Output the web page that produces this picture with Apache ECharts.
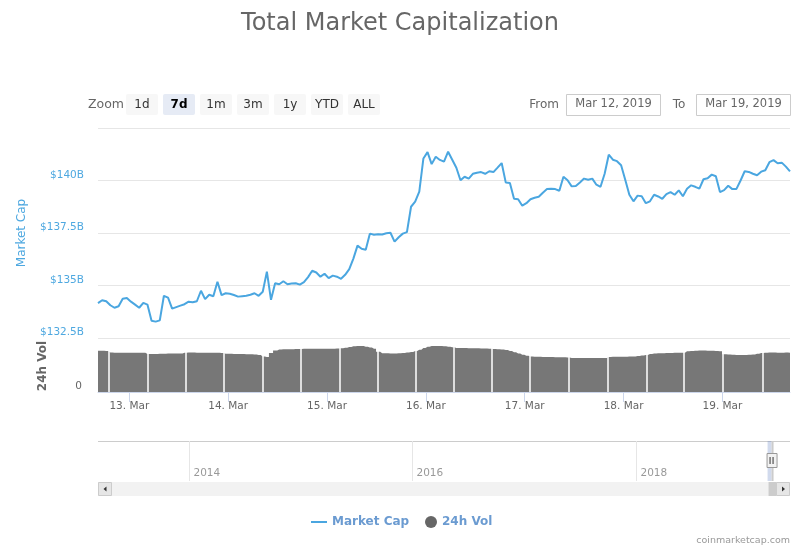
<!DOCTYPE html>
<html>
<head>
<meta charset="utf-8">
<script src="https://cdn.jsdelivr.net/npm/echarts@6/dist/echarts.min.js"></script>
<style>
html,body{margin:0;padding:0;background:#fff;}
#chart{width:800px;height:550px;}
</style>
</head>
<body>
<div id="chart"></div>
<script>
// ---------------- data ----------------
const startTime = Date.UTC(2019, 2, 12, 16, 24);   // first hourly sample
const stepHours = 1;

// Total market cap, billions USD, hourly samples
const marketCapB = [
  134.16, 134.30, 134.25, 134.06, 133.94, 134.01, 134.37, 134.40, 134.23, 134.09,
  133.94, 134.17, 134.09, 133.32, 133.28, 133.34, 134.51, 134.42, 133.90, 133.97,
  134.04, 134.11, 134.23, 134.20, 134.25, 134.75, 134.35, 134.56, 134.49, 135.18,
  134.54, 134.63, 134.61, 134.55, 134.47, 134.49, 134.51, 134.56, 134.63, 134.51,
  134.70, 135.66, 134.32, 135.11, 135.06, 135.20, 135.06, 135.09, 135.11, 135.04,
  135.16, 135.40, 135.70, 135.62, 135.42, 135.56, 135.35, 135.47, 135.42, 135.32,
  135.51, 135.78, 136.28, 136.90, 136.75, 136.70, 137.47, 137.42, 137.44, 137.43,
  137.49, 137.51, 137.09, 137.30, 137.47, 137.54, 138.75, 138.99, 139.47, 141.05,
  141.35, 140.78, 141.13, 140.98, 140.90, 141.37, 140.99, 140.61, 140.01, 140.18,
  140.09, 140.32, 140.37, 140.40, 140.32, 140.44, 140.40, 140.61, 140.83, 139.90,
  139.88, 139.13, 139.11, 138.80, 138.92, 139.11, 139.18, 139.23, 139.42, 139.59,
  139.61, 139.59, 139.51, 140.18, 140.01, 139.72, 139.74, 139.91, 140.09, 140.04,
  140.09, 139.80, 139.70, 140.32, 141.23, 140.99, 140.92, 140.73, 140.04, 139.32,
  139.01, 139.28, 139.25, 138.92, 139.01, 139.32, 139.24, 139.13, 139.35, 139.45,
  139.32, 139.53, 139.25, 139.61, 139.77, 139.70, 139.61, 140.06, 140.11, 140.28,
  140.20, 139.45, 139.54, 139.75, 139.59, 139.60, 140.00, 140.44, 140.41, 140.32,
  140.25, 140.42, 140.49, 140.87, 140.97, 140.82, 140.85, 140.66, 140.43
];

// 24h volume, billions USD, hourly samples
const volumeB = [
  31.8, 31.7, 31.6,
  30.3, 30.2, 30.2, 30.1, 30.1, 30.2, 30.2, 30.1, 30.2,
  29.3, 29.2, 29.3, 29.4, 29.5, 29.6, 29.6, 29.7, 29.7,
  30.2, 30.3, 30.3, 30.2, 30.2, 30.2, 30.1, 30.1, 30.1, 30.0,
  29.5, 29.4, 29.3, 29.3, 29.2, 29.1, 29.0, 28.8, 28.5,
  27.3, 27.0,
  30.0, 32.0, 32.6, 32.8, 32.9, 32.9, 33.0, 33.0,
  33.3, 33.3, 33.3, 33.3, 33.3, 33.3, 33.3, 33.3, 33.4,
  33.6, 34.0, 34.6, 35.2, 35.4, 35.3, 34.9, 34.2, 33.2, 31.0,
  29.8, 29.8, 29.7, 29.7, 29.8,
  30.0, 30.3, 30.8, 31.5,
  32.5, 33.8, 34.8, 35.3, 35.4, 35.4, 35.2, 34.8, 34.4,
  33.9, 33.8, 33.8, 33.7, 33.6, 33.6, 33.5, 33.5, 33.3,
  33.0, 32.9, 32.7, 32.3, 31.6, 30.6, 29.6, 28.6, 27.8, 27.3,
  27.2, 27.1, 27.0, 27.0, 26.9, 26.8, 26.8, 26.7, 26.6,
  26.2, 26.2, 26.1, 26.1, 26.1, 26.1, 26.1, 26.2, 26.2,
  27.0, 27.1, 27.1, 27.2, 27.2, 27.3, 27.4, 27.6, 28.0, 28.4,
  29.3, 29.6, 29.8, 29.9, 30.0, 30.0, 30.1, 30.1, 30.2,
  31.3, 31.6, 31.8, 31.9, 31.9, 31.8, 31.7, 31.5, 31.3,
  29.0, 28.8, 28.6, 28.5, 28.4, 28.4, 28.6, 28.9, 29.4,
  30.0, 30.2, 30.3, 30.3, 30.2, 30.2, 30.3, 30.2
];

// hours (from first sample) where the volume columns show white separators
const volumeGapHours = [2.5, 12.0, 21.3, 30.6, 40.0, 49.2, 58.6, 68.0, 77.2,
  86.4, 95.7, 104.9, 114.4, 123.7, 133.2, 142.3, 151.7, 161.3];

const capTicks = { min: 132.5, max: 142.5, step: 2.5 };
const volTicks = { min: 0, max: 40 };
const navigatorYears = [2014, 2016, 2018];
const navigatorRange = [Date.UTC(2013, 2, 9), Date.UTC(2019, 4, 19)];
const rangeButtons = ['1d', '7d', '1m', '3m', '1y', 'YTD', 'ALL'];
const selectedButton = '7d';
const fromLabel = 'Mar 12, 2019';
const toLabel = 'Mar 19, 2019';
const creditText = 'coinmarketcap.com';
const monthNames = ['Jan','Feb','Mar','Apr','May','Jun','Jul','Aug','Sep','Oct','Nov','Dec'];

// ---------------- chart ----------------
const HOUR = 3600 * 1000;
const endTime = startTime + (marketCapB.length - 1) * stepHours * HOUR;
const capData = marketCapB.map((v, i) => [startTime + i * stepHours * HOUR, v]);
const volData = volumeB.map((v, i) => [startTime + i * stepHours * HOUR, v]);
const yearData = navigatorYears.map(y => [Date.UTC(y, 0, 1), 0, y]);
const FONT = 'DejaVu Sans';

const chart = echarts.init(document.getElementById('chart'), null, { renderer: 'canvas' });

const option = {
  animation: false,
  useUTC: true,
  backgroundColor: '#ffffff',
  textStyle: { fontFamily: FONT },
  title: [
    {
      text: 'Total Market Capitalization',
      left: 'center', top: 7,
      textStyle: { fontSize: 24, color: '#666666', fontWeight: 'normal', fontFamily: FONT }
    }
  ],
  legend: [
    {
      data: [{ name: 'Market Cap', icon: 'rect' }],
      left: 306, top: 511, itemWidth: 16, itemHeight: 2, itemGap: 5,
      selectedMode: false,
      textStyle: { color: '#6b9bd1', fontWeight: 'bold', fontSize: 12, fontFamily: FONT }
    },
    {
      data: [{ name: '24h Vol', icon: 'circle' }],
      left: 420, top: 511, itemWidth: 12, itemHeight: 12,
      selectedMode: false,
      textStyle: { color: '#6b9bd1', fontWeight: 'bold', fontSize: 12, fontFamily: FONT }
    }
  ],
  grid: [
    { left: 98, width: 692, top: 128, height: 210, containLabel: false },
    { left: 98, width: 692, top: 340, height: 52, containLabel: false },
    { left: 98, width: 692, top: 441, height: 40, containLabel: false }
  ],
  xAxis: [
    {
      type: 'time', gridIndex: 0, min: startTime, max: endTime,
      axisLine: { show: false }, axisTick: { show: false }, axisLabel: { show: false },
      splitLine: { show: false }
    },
    {
      type: 'time', gridIndex: 1, min: startTime, max: endTime,
      minInterval: 24 * HOUR, maxInterval: 24 * HOUR,
      axisLine: { show: true, lineStyle: { color: '#ccd6eb', width: 1 } },
      axisTick: { show: true, length: 10, lineStyle: { color: '#ccd6eb' } },
      axisLabel: {
        color: '#666666', fontSize: 10.5, margin: 9, fontFamily: FONT,
        formatter: v => { const d = new Date(v); return d.getUTCDate() + '. ' + monthNames[d.getUTCMonth()]; }
      },
      splitLine: { show: false }
    },
    {
      type: 'time', gridIndex: 2, min: navigatorRange[0], max: navigatorRange[1],
      axisLine: { show: false }, axisTick: { show: false }, axisLabel: { show: false },
      splitLine: { show: false }
    }
  ],
  yAxis: [
    {
      type: 'value', gridIndex: 0, min: capTicks.min, max: capTicks.max, interval: capTicks.step,
      name: 'Market Cap', nameLocation: 'middle', nameGap: 70,
      nameTextStyle: { color: '#4ea8e0', fontSize: 12, fontFamily: FONT },
      axisLine: { show: false }, axisTick: { show: false },
      axisLabel: {
        color: '#4ea8e0', fontSize: 10.5, margin: 14, verticalAlign: 'bottom', fontFamily: FONT,
        formatter: v => (v >= capTicks.max ? '' : '$' + v + 'B')
      },
      splitLine: { show: true, lineStyle: { color: '#e6e6e6', width: 1 } }
    },
    {
      type: 'value', gridIndex: 1, min: volTicks.min, max: volTicks.max, interval: volTicks.max,
      name: '24h Vol', nameLocation: 'middle', nameGap: 49,
      nameTextStyle: { color: '#666666', fontSize: 12, fontWeight: 'bold', fontFamily: FONT },
      axisLine: { show: false }, axisTick: { show: false },
      axisLabel: {
        color: '#666666', fontSize: 10.5, margin: 16, verticalAlign: 'bottom', fontFamily: FONT,
        formatter: v => (v === 0 ? '0' : '')
      },
      splitLine: { show: false }
    },
    {
      type: 'value', gridIndex: 2, min: 0, max: 1,
      axisLine: { show: false }, axisTick: { show: false }, axisLabel: { show: false },
      splitLine: { show: false }
    }
  ],
  series: [
    {
      name: 'Market Cap', type: 'line', xAxisIndex: 0, yAxisIndex: 0,
      data: capData, showSymbol: false, symbol: 'none',
      lineStyle: { color: '#4aa6e0', width: 2 },
      itemStyle: { color: '#4aa6e0' }
    },
    {
      name: '24h Vol', type: 'line', xAxisIndex: 1, yAxisIndex: 1,
      data: volData, step: 'middle', showSymbol: false, symbol: 'none',
      lineStyle: { width: 0 },
      itemStyle: { color: '#666666' },
      areaStyle: { color: '#777777', opacity: 1 },
      markLine: {
        silent: true, symbol: ['none', 'none'], animation: false,
        label: { show: false },
        lineStyle: { color: '#ffffff', width: 1.5, type: 'solid' },
        data: volumeGapHours.map(h => ({ xAxis: startTime + h * HOUR }))
      }
    },
    {
      name: 'navigatorYears', type: 'custom', xAxisIndex: 2, yAxisIndex: 2,
      data: yearData, silent: true,
      renderItem: (params, api) => {
        const x = Math.round(api.coord([api.value(0), 0])[0]) + 0.5;
        const cs = params.coordSys;
        return {
          type: 'group',
          children: [
            { type: 'line', shape: { x1: x, y1: cs.y, x2: x, y2: cs.y + cs.height },
              style: { stroke: '#e6e6e6', lineWidth: 1 } },
            { type: 'text', x: x + 4, y: cs.y + cs.height - 8,
              style: { text: String(api.value(2)), fill: '#999999', font: '10.5px "DejaVu Sans"',
                       align: 'left', verticalAlign: 'middle' } }
          ]
        };
      }
    }
  ]
};

chart.setOption(option);

// ---- UI chrome (range selector, inputs, navigator handle, scrollbar, credits) ----
const navX0 = chart.convertToPixel({ xAxisIndex: 2 }, startTime);
const navX1 = chart.convertToPixel({ xAxisIndex: 2 }, endTime);

const graphics = [];
graphics.push({
  type: 'text', x: 88, y: 104.5,
  style: { text: 'Zoom', fill: '#666666', font: '12.5px "DejaVu Sans"', verticalAlign: 'middle' }
});
rangeButtons.forEach((label, i) => {
  const sel = label === selectedButton;
  graphics.push({
    type: 'group', x: 126 + i * 37, y: 94,
    children: [
      { type: 'rect', shape: { x: 0, y: 0, width: 32, height: 21, r: 2 },
        style: { fill: sel ? '#e6ebf5' : '#f7f7f7' } },
      { type: 'text', x: 16, y: 10.5,
        style: { text: label, fill: sel ? '#000000' : '#333333',
                 font: (sel ? 'bold ' : '') + '12px "DejaVu Sans"', align: 'center', verticalAlign: 'middle' } }
    ]
  });
});
graphics.push({ type: 'text', x: 559, y: 104.5,
  style: { text: 'From', fill: '#666666', font: '12px "DejaVu Sans"', align: 'right', verticalAlign: 'middle' } });
graphics.push({ type: 'rect', shape: { x: 566.5, y: 94.5, width: 94, height: 21 },
  style: { fill: '#ffffff', stroke: '#cccccc', lineWidth: 1 } });
graphics.push({ type: 'text', x: 613.5, y: 104.5,
  style: { text: fromLabel, fill: '#666666', font: '11.5px "DejaVu Sans"', align: 'center', verticalAlign: 'middle' } });
graphics.push({ type: 'text', x: 679, y: 104.5,
  style: { text: 'To', fill: '#666666', font: '12px "DejaVu Sans"', align: 'center', verticalAlign: 'middle' } });
graphics.push({ type: 'rect', shape: { x: 696.5, y: 94.5, width: 94, height: 21 },
  style: { fill: '#ffffff', stroke: '#cccccc', lineWidth: 1 } });
graphics.push({ type: 'text', x: 743.5, y: 104.5,
  style: { text: toLabel, fill: '#666666', font: '11.5px "DejaVu Sans"', align: 'center', verticalAlign: 'middle' } });

// navigator outline + selected range
graphics.push({ type: 'line', shape: { x1: 98, y1: 441.5, x2: 790, y2: 441.5 },
  style: { stroke: '#cccccc', lineWidth: 1 } });
graphics.push({ type: 'rect', shape: { x: Math.min(navX0, navX1 - 4), y: 441, width: Math.max(4, navX1 - navX0), height: 40 },
  style: { fill: 'rgba(102,133,194,0.3)' } });
graphics.push({ type: 'line', shape: { x1: navX1 + 1, y1: 441, x2: navX1 + 1, y2: 481 },
  style: { stroke: '#cccccc', lineWidth: 2 } });
// scrollbar
graphics.push({ type: 'rect', shape: { x: 98, y: 482, width: 692, height: 14 },
  style: { fill: '#f2f2f2' } });
graphics.push({ type: 'rect', shape: { x: navX1 - 3, y: 482, width: 8, height: 14 },
  style: { fill: '#cccccc' } });
graphics.push({ type: 'rect', shape: { x: 98.5, y: 482.5, width: 13, height: 13 },
  style: { fill: '#e6e6e6', stroke: '#cccccc', lineWidth: 1 } });
graphics.push({ type: 'polygon', shape: { points: [[103.5, 489], [106.5, 486.5], [106.5, 491.5]] },
  style: { fill: '#333333' } });
graphics.push({ type: 'rect', shape: { x: 776.5, y: 482.5, width: 13, height: 13 },
  style: { fill: '#e6e6e6', stroke: '#cccccc', lineWidth: 1 } });
graphics.push({ type: 'polygon', shape: { points: [[785, 489], [782, 486.5], [782, 491.5]] },
  style: { fill: '#333333' } });
// navigator handle
graphics.push({ type: 'rect', shape: { x: navX1 - 4.5, y: 453.5, width: 10, height: 14 },
  style: { fill: '#f2f2f2', stroke: '#999999', lineWidth: 1 } });
graphics.push({ type: 'line', shape: { x1: navX1 - 1.5, y1: 457, x2: navX1 - 1.5, y2: 464 },
  style: { stroke: '#333333', lineWidth: 1 } });
graphics.push({ type: 'line', shape: { x1: navX1 + 1.5, y1: 457, x2: navX1 + 1.5, y2: 464 },
  style: { stroke: '#333333', lineWidth: 1 } });
// credits
graphics.push({ type: 'text', x: 790, y: 541,
  style: { text: creditText, fill: '#999999', font: '9.5px "DejaVu Sans"', align: 'right', verticalAlign: 'middle' } });

chart.setOption({ graphic: graphics });
</script>
</body>
</html>
